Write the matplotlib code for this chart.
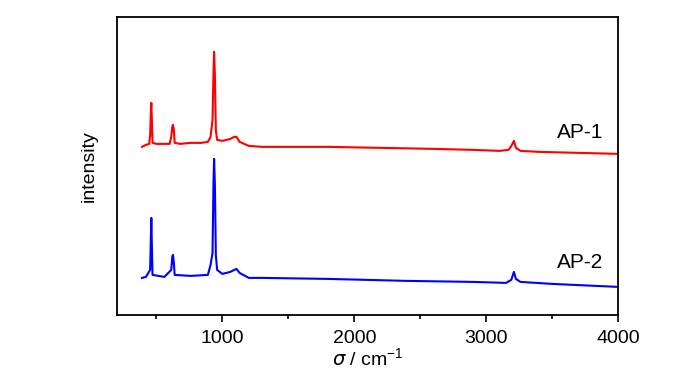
import numpy as np
import matplotlib
matplotlib.use("Agg")
import matplotlib.pyplot as plt
from matplotlib.ticker import MultipleLocator

plt.rcParams["font.family"] = ["Liberation Sans", "DejaVu Sans"]

# wavenumber (cm-1) and intensity (a.u.)
wn_1 = [390, 420, 445, 452, 458, 461, 465, 470, 500, 560, 600, 612, 620, 625, 632, 638,
        680, 760, 840, 890, 910, 925, 932, 937, 943, 950, 960, 1000, 1060, 1090, 1107,
        1130, 1200, 1300, 1500, 1800, 2200, 2600, 2900, 3100, 3170, 3195, 3210, 3225,
        3260, 3400, 3700, 4000]
ap_1 = [168, 170, 171, 180, 205, 212, 195, 172, 171, 171, 171, 178, 188, 190, 185, 172,
        171, 172, 172, 173, 178, 195, 240, 263, 240, 185, 175, 174, 176, 178, 178,
        173, 169, 168, 168, 168, 167, 166, 165, 164, 165, 170, 174, 167,
        164, 163, 162, 161]

wn_2 = [390, 420, 452, 458, 461, 465, 470, 560, 612, 620, 625, 632, 638, 760, 890, 910,
        925, 932, 937, 943, 950, 960, 1000, 1060, 1090, 1107, 1130, 1200, 1300, 1800,
        2400, 2900, 3150, 3190, 3210, 3225, 3260, 3500, 4000]
ap_2 = [37, 38, 45, 80, 97, 70, 40, 38, 45, 58, 60, 52, 40, 39, 40, 50,
        62, 130, 156, 130, 60, 45, 41, 43, 45, 46, 42, 37, 37, 36,
        34, 33, 32, 35, 43, 36, 33, 31, 28]

fig = plt.figure(figsize=(7.0, 3.74), dpi=100)
ax = fig.add_axes([0.167, 0.158, 0.716, 0.797])

ax.plot(wn_1, ap_1, color="#ff0000", lw=1.5)
ax.plot(wn_2, ap_2, color="#0000ff", lw=1.5)

ax.text(3715, 182, "AP-1", fontsize=15, ha="center", va="center")
ax.text(3715, 52, "AP-2", fontsize=15, ha="center", va="center")

ax.set_xlim(200, 4000)
ax.set_ylim(0, 298)
ax.xaxis.set_major_locator(MultipleLocator(1000))
ax.xaxis.set_minor_locator(MultipleLocator(500))
ax.set_yticks([])
ax.tick_params(axis="x", which="both", direction="out", width=1.2, labelsize=14, pad=6)
ax.tick_params(axis="x", which="major", length=5)
ax.tick_params(axis="x", which="minor", length=3)
for s in ax.spines.values():
    s.set_linewidth(1.3)

ax.set_xlabel(r"$\sigma$ / cm$^{\mathregular{-1}}$", fontsize=14, labelpad=0)
ax.set_ylabel("intensity", fontsize=14, labelpad=14)

fig.savefig("out.png", dpi=100)
